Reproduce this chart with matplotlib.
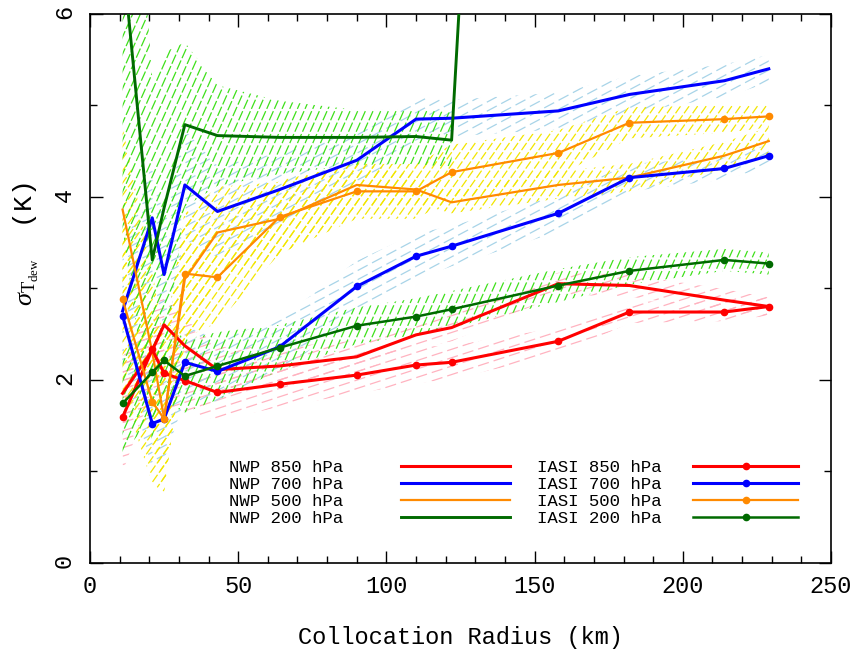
import numpy as np
import matplotlib
matplotlib.use('Agg')
import matplotlib.pyplot as plt
from matplotlib.collections import LineCollection
from matplotlib.patches import Polygon
from matplotlib.ticker import MultipleLocator

# collocation radius (km)
radius = np.array([11, 21, 25, 32, 43, 64, 90, 110, 122, 158, 182, 214, 229])

# sigma T_dew (K), NWP
nwp_850 = np.array([1.85, 2.32, 2.60, 2.37, 2.11, 2.15, 2.25, 2.49, 2.57, 3.05, 3.03, 2.87, 2.80])
nwp_700 = np.array([2.75, 3.77, 3.15, 4.13, 3.84, 4.08, 4.40, 4.85, 4.86, 4.94, 5.12, 5.27, 5.40])
nwp_500 = np.array([3.86, 2.30, 1.58, 3.10, 3.61, 3.76, 4.13, 4.08, 3.94, 4.13, 4.21, 4.45, 4.61])
nwp_200 = np.array([6.65, 3.31, 3.88, 4.79, 4.67, 4.65, 4.65, 4.66, 4.62, 25.0, np.nan, np.nan, np.nan])

# sigma T_dew (K), IASI
iasi_850 = np.array([1.59, 2.33, 2.07, 1.99, 1.86, 1.95, 2.05, 2.16, 2.19, 2.42, 2.74, 2.74, 2.80])
iasi_700 = np.array([2.70, 1.52, 1.57, 2.19, 2.09, 2.36, 3.02, 3.35, 3.46, 3.82, 4.21, 4.31, 4.45])
iasi_500 = np.array([2.88, 1.76, 1.57, 3.16, 3.12, 3.78, 4.06, 4.06, 4.27, 4.48, 4.81, 4.85, 4.88])
iasi_200 = np.array([1.74, 2.08, 2.21, 2.04, 2.15, 2.35, 2.59, 2.69, 2.77, 3.03, 3.19, 3.31, 3.27])

# uncertainty half-widths (hatched bands)
err_nwp_850 = np.array([0.40, 0.40, 0.35, 0.30, 0.25, 0.20, 0.18, 0.15, 0.15, 0.12, 0.12, 0.12, 0.10])
err_nwp_700 = np.array([0.60, 0.60, 0.60, 0.60, 0.50, 0.40, 0.30, 0.25, 0.20, 0.20, 0.20, 0.18, 0.15])
err_nwp_500 = np.array([0.90, 0.90, 0.80, 0.70, 0.50, 0.40, 0.25, 0.15, 0.12, 0.15, 0.15, 0.15, 0.15])
err_nwp_200 = np.array([3.00, 2.00, 1.70, 0.90, 0.55, 0.40, 0.30, 0.30, 0.30, np.nan, np.nan, np.nan, np.nan])
err_iasi_850 = np.array([0.60, 0.45, 0.40, 0.35, 0.30, 0.25, 0.20, 0.20, 0.18, 0.15, 0.12, 0.10, 0.10])
err_iasi_700 = np.array([0.50, 0.50, 0.45, 0.40, 0.35, 0.30, 0.28, 0.25, 0.22, 0.20, 0.15, 0.12, 0.12])
err_iasi_500 = np.array([1.00, 0.90, 0.80, 0.70, 0.50, 0.40, 0.30, 0.30, 0.30, 0.25, 0.17, 0.15, 0.12])
err_iasi_200 = np.array([0.55, 0.50, 0.45, 0.40, 0.37, 0.25, 0.20, 0.20, 0.20, 0.18, 0.15, 0.12, 0.12])

plt.rcParams['font.family'] = 'Liberation Mono'
plt.rcParams['mathtext.fontset'] = 'custom'
plt.rcParams['mathtext.rm'] = 'Liberation Serif'
plt.rcParams['mathtext.it'] = 'Liberation Serif:italic'

W, H = 857, 656
fig = plt.figure(figsize=(W / 100, H / 100), dpi=100)
ax = fig.add_axes([90 / W, 1 - 562.5 / H, 741 / W, 548.5 / H])
XMAX, YMAX = 250, 6
sx = 741 / XMAX
sy = 548.5 / YMAX


def hatch(x, val, err, color, angle, step, dash):
    ok = np.isfinite(val) & np.isfinite(err)
    x, lo, hi = x[ok], (val - err)[ok], (val + err)[ok]
    verts = np.column_stack([np.r_[x, x[::-1]], np.r_[lo, hi[::-1]]])
    poly = Polygon(verts, closed=True, facecolor='none', edgecolor='none')
    ax.add_patch(poly)
    th = np.radians(angle)
    d = np.array([np.cos(th), np.sin(th)])
    n = np.array([-np.sin(th), np.cos(th)])
    corners = np.array([[0, 0], [741, 0], [0, 900], [741, 900]])
    c = corners @ n
    L = 2000
    segs = []
    for ci in np.arange(c.min(), c.max() + step, step):
        p0 = ci * n - L * d
        p1 = ci * n + L * d
        segs.append([[p0[0] / sx, p0[1] / sy], [p1[0] / sx, p1[1] / sy]])
    lc = LineCollection(segs, colors=color, linewidths=0.9, linestyles=dash, zorder=1)
    ax.add_collection(lc, autolim=False)
    lc.set_clip_path(poly)


pink, lblue, yel, lgreen = '#ffb3c0', '#a8d4e8', '#f2e600', '#3ee01a'
hatch(radius, nwp_850, err_nwp_850, pink, 18, 8, (0, (9, 4)))
hatch(radius, iasi_850, err_iasi_850, pink, 18, 8, (0, (9, 4)))
hatch(radius, nwp_700, err_nwp_700, lblue, 28, 8, (0, (9, 4)))
hatch(radius, iasi_700, err_iasi_700, lblue, 28, 8, (0, (9, 4)))
hatch(radius, nwp_500, err_nwp_500, yel, 55, 7, (0, (7, 2)))
hatch(radius, iasi_500, err_iasi_500, yel, 55, 7, (0, (7, 2)))
hatch(radius, nwp_200, err_nwp_200, lgreen, 66, 7, (0, (8, 2)))
hatch(radius, iasi_200, err_iasi_200, lgreen, 66, 7, (0, (8, 2)))

red, blue, orange, dgreen = '#ff0000', '#0000ff', '#ff8a00', '#006a00'
l1, = ax.plot(radius, nwp_850, color=red, lw=2.2, label='NWP 850 hPa', zorder=3)
l2, = ax.plot(radius, nwp_700, color=blue, lw=2.2, label='NWP 700 hPa', zorder=3)
l3, = ax.plot(radius, nwp_500, color=orange, lw=1.6, label='NWP 500 hPa', zorder=3)
l4, = ax.plot(radius, nwp_200, color=dgreen, lw=2.1, label='NWP 200 hPa', zorder=3)
m1, = ax.plot(radius, iasi_850, color=red, lw=2.2, marker='o', ms=4.5, label='IASI 850 hPa', zorder=4)
m2, = ax.plot(radius, iasi_700, color=blue, lw=2.2, marker='o', ms=4.5, label='IASI 700 hPa', zorder=4)
m3, = ax.plot(radius, iasi_500, color=orange, lw=1.6, marker='o', ms=4.5, label='IASI 500 hPa', zorder=4)
m4, = ax.plot(radius, iasi_200, color=dgreen, lw=1.8, marker='o', ms=4.5, label='IASI 200 hPa', zorder=4)

ax.set_xlim(0, XMAX)
ax.set_ylim(0, YMAX)
ax.xaxis.set_major_locator(MultipleLocator(50))
ax.xaxis.set_minor_locator(MultipleLocator(10))
ax.yaxis.set_major_locator(MultipleLocator(2))
ax.yaxis.set_minor_locator(MultipleLocator(1))
ax.tick_params(which='both', direction='in', top=True, right=True, width=1, labelsize=17)
ax.tick_params(which='major', length=9)
ax.tick_params(which='minor', length=5)
ax.tick_params(axis='x', pad=9)
ax.tick_params(axis='y', labelrotation=90, pad=10)
for s in ax.spines.values():
    s.set_linewidth(1.2)

ax.set_xlabel('Collocation Radius (km)', fontsize=17)
ax.xaxis.set_label_coords(0.5, -0.115)
ax.set_ylabel(r'$\sigma_{\mathrm{T_{dew}}}$  (K)', fontsize=19)
ax.yaxis.set_label_coords(-0.066, 0.58)

leg_kw = dict(frameon=False, markerfirst=False, loc='lower left', fontsize=12.5,
              labelspacing=0.12, borderpad=0, borderaxespad=0)
leg1 = ax.legend(handles=[l1, l2, l3, l4], bbox_to_anchor=(0.188, 0.066),
                 handlelength=6.3, handletextpad=3.3, **leg_kw)
ax.add_artist(leg1)
ax.legend(handles=[m1, m2, m3, m4], bbox_to_anchor=(0.603, 0.066),
          handlelength=6.1, handletextpad=1.8, **leg_kw)

fig.savefig('out.png', dpi=100)
